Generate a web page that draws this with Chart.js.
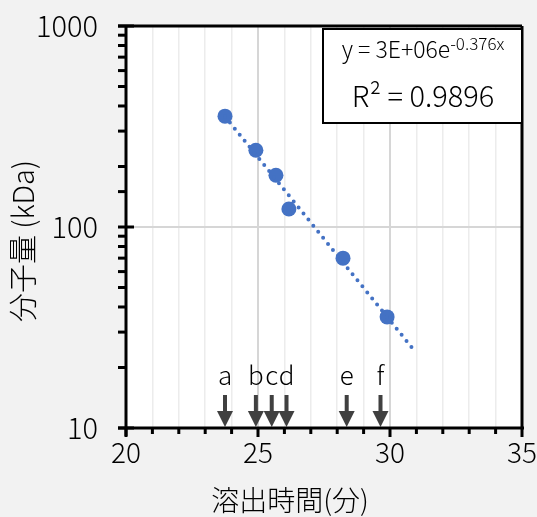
<!DOCTYPE html>
<html>
<head>
<meta charset="utf-8">
<script src="https://cdn.jsdelivr.net/npm/chart.js@4"></script>
<style>
  body { margin: 0; background: #f2f2f2; }
  #wrap { width: 537px; height: 517px; }
</style>
</head>
<body>
<div id="wrap"><canvas id="chart" width="537" height="517"></canvas></div>
<script>
// data
const elutionTimes = [23.75, 24.92, 25.68, 26.17, 28.22, 29.89];
const molWeights = [356, 241, 181, 123, 70, 35.7];
const trendRange = [23.75, 30.9];
const markerTimes = [23.75, 24.92, 25.52, 26.08, 28.36, 29.64];
const markerLabels = ['a', 'b', 'c', 'd', 'e', 'f'];
const xTickLabels = [20, 25, 30, 35];
const yTickLabels = [10, 100, 1000];
const fitText = 'y = 3E+06e';
const fitExp = '-0.376x';
const r2Text = 'R² = 0.9896';

const FONT = '"Noto Sans CJK JP", "Noto Sans", sans-serif';

// exponential fit (least squares on ln y), like the spreadsheet trendline
function expFit(xs, ys) {
  const n = xs.length;
  const ly = ys.map(v => Math.log(v));
  const mx = xs.reduce((s, v) => s + v, 0) / n;
  const my = ly.reduce((s, v) => s + v, 0) / n;
  let sxy = 0, sxx = 0;
  for (let i = 0; i < n; i++) {
    sxy += (xs[i] - mx) * (ly[i] - my);
    sxx += (xs[i] - mx) * (xs[i] - mx);
  }
  const b = sxy / sxx;
  const a = my - b * mx;
  return x => Math.exp(a + b * x);
}
const fit = expFit(elutionTimes, molWeights);
const trendPoints = trendRange.map(x => ({ x: x, y: fit(x) }));
const points = elutionTimes.map((x, i) => ({ x: x, y: molWeights[i] }));

// plot background, axes, arrows and the equation box
const decor = {
  id: 'decor',
  beforeDraw(chart) {
    const { ctx, chartArea: a } = chart;
    ctx.save();
    ctx.fillStyle = '#fff';
    ctx.fillRect(a.left, a.top, a.right - a.left, a.bottom - a.top);
    ctx.restore();
  },
  afterDraw(chart) {
    const { ctx, chartArea: a, scales } = chart;
    const x = scales.x, y = scales.y;
    ctx.save();

    // arrows
    ctx.fillStyle = '#404040';
    markerTimes.forEach(t => {
      const px = x.getPixelForValue(t);
      ctx.fillRect(px - 2, 395, 4, 18);
      ctx.beginPath();
      ctx.moveTo(px - 8, 411);
      ctx.lineTo(px + 8, 411);
      ctx.lineTo(px, 427);
      ctx.closePath();
      ctx.fill();
    });
    ctx.fillStyle = '#000';
    ctx.font = '300 26px ' + FONT;
    ctx.textAlign = 'center';
    ctx.textBaseline = 'alphabetic';
    markerTimes.forEach((t, i) => {
      ctx.fillText(markerLabels[i], x.getPixelForValue(t), 385);
    });

    // frame
    ctx.strokeStyle = '#000';
    ctx.lineWidth = 3;
    ctx.beginPath();
    ctx.moveTo(a.left - 8, a.top); ctx.lineTo(a.right, a.top);
    ctx.moveTo(a.right, a.top); ctx.lineTo(a.right, a.bottom);
    ctx.moveTo(a.left, a.top); ctx.lineTo(a.left, a.bottom + 8);
    ctx.moveTo(a.left - 8, a.bottom); ctx.lineTo(a.right + 2, a.bottom);
    ctx.stroke();

    // y ticks
    y.ticks.forEach(t => {
      const py = y.getPixelForValue(t.value);
      ctx.beginPath();
      if (yTickLabels.includes(t.value)) {
        ctx.moveTo(a.left - 8, py); ctx.lineTo(a.left + 8, py);
      } else {
        ctx.moveTo(a.left - 8, py); ctx.lineTo(a.left, py);
      }
      ctx.stroke();
    });
    // x ticks
    x.ticks.forEach(t => {
      const px = x.getPixelForValue(t.value);
      ctx.beginPath();
      ctx.moveTo(px, a.bottom);
      ctx.lineTo(px, a.bottom + (xTickLabels.includes(t.value) ? 9 : 6));
      ctx.stroke();
    });

    // equation box
    ctx.fillStyle = '#fff';
    ctx.fillRect(323, 29, a.right - 323, 94);
    ctx.lineWidth = 2;
    ctx.strokeRect(323, 29, a.right - 323, 94);
    ctx.fillStyle = '#000';
    ctx.textAlign = 'left';
    ctx.font = '300 23px ' + FONT;
    const w1 = ctx.measureText(fitText).width;
    ctx.font = '300 17px ' + FONT;
    const w2 = ctx.measureText(fitExp).width;
    const sx = 423 - (w1 + w2) / 2;
    ctx.font = '300 23px ' + FONT;
    ctx.fillText(fitText, sx, 58);
    ctx.font = '300 17px ' + FONT;
    ctx.fillText(fitExp, sx + w1, 50);
    ctx.font = '300 29px ' + FONT;
    ctx.textAlign = 'center';
    ctx.fillText(r2Text, 423, 107);

    // axis titles
    ctx.font = '300 28px ' + FONT;
    ctx.textBaseline = 'middle';
    ctx.fillText('溶出時間(分)', 290, 500);
    ctx.translate(23, 241);
    ctx.rotate(-Math.PI / 2);
    ctx.font = '300 29px ' + FONT;
    ctx.fillText('分子量 (kDa)', 0, 0);
    ctx.restore();
  }
};

new Chart(document.getElementById('chart'), {
  type: 'scatter',
  data: {
    datasets: [
      {
        type: 'line',
        data: trendPoints,
        borderColor: '#4472C4',
        borderWidth: 4,
        borderDash: [0, 7.8],
        borderCapStyle: 'round',
        pointRadius: 0,
        fill: false,
        order: 0,
      },
      {
        data: points,
        backgroundColor: '#4472C4',
        borderWidth: 0,
        pointRadius: 7.5,
        pointHoverRadius: 7.5,
        order: 1,
      },
    ],
  },
  options: {
    responsive: false,
    animation: false,
    layout: { padding: { top: 26, right: 15, left: 0, bottom: 0 } },
    plugins: { legend: { display: false }, tooltip: { enabled: false } },
    scales: {
      x: {
        type: 'linear',
        min: 20,
        max: 35,
        afterFit: s => {
          s.height = 89;
          s.paddingLeft = 0;
          s.paddingRight = 0;
        },
        border: { display: false },
        grid: {
          drawTicks: false,
          color: c => (c.tick.value % 5 === 0 ? '#d6d6d6' : '#ececec'),
          lineWidth: c => (c.tick.value % 5 === 0 ? 2 : 1.5),
        },
        ticks: {
          stepSize: 1,
          autoSkip: false,
          maxRotation: 0,
          minRotation: 0,
          padding: 8,
          color: '#000',
          font: { family: FONT, size: 28, weight: 300 },
          callback: v => (xTickLabels.includes(v) ? String(v) : ''),
        },
      },
      y: {
        type: 'logarithmic',
        min: 10,
        max: 1000,
        afterFit: s => {
          s.width = 126;
          s.paddingTop = 0;
          s.paddingBottom = 0;
        },
        border: { display: false },
        grid: {
          drawTicks: false,
          color: c => (c.tick.value === 100 ? '#d6d6d6' : 'rgba(0,0,0,0)'),
          lineWidth: 2,
        },
        ticks: {
          padding: 28,
          color: '#000',
          font: { family: FONT, size: 29, weight: 300 },
          autoSkip: false,
          callback: v => (yTickLabels.includes(v) ? String(v) : ''),
        },
      },
    },
  },
  plugins: [decor],
});
</script>
</body>
</html>
